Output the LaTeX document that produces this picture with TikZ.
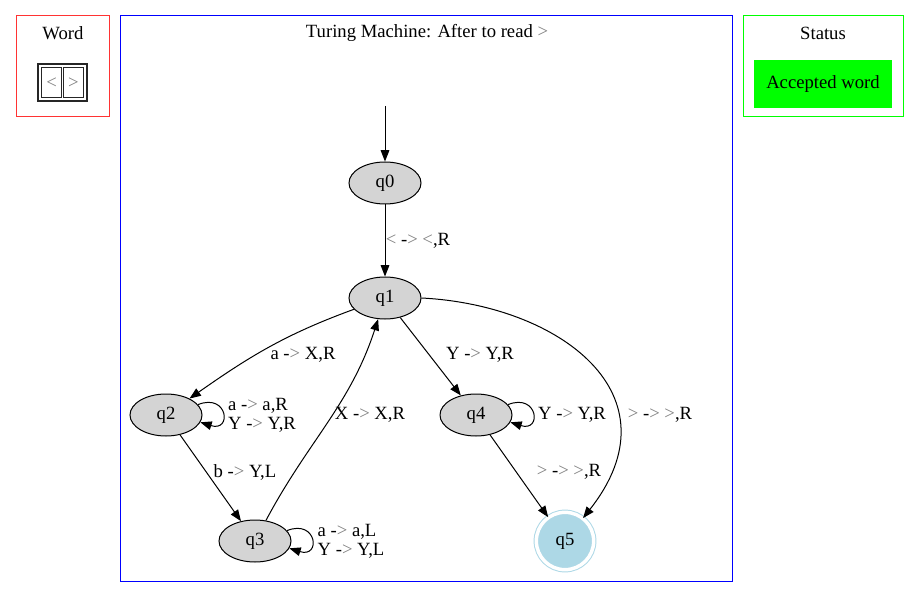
\documentclass[tikz,border=0pt]{standalone}
\usepackage{fontspec}
\setmainfont{Liberation Serif}
\usetikzlibrary{shapes.geometric,arrows.meta}
\newcommand{\mylt}{\textcolor{gray}{<}}
\newcommand{\mygt}{\textcolor{gray}{>}}
\definecolor{lblue}{HTML}{ADD8E6}
\definecolor{fred}{HTML}{FF3333}
\begin{document}
\begin{tikzpicture}[x=0.75pt,y=-0.75pt,
  every node/.style={font=\fontsize{14}{16}\selectfont, inner sep=0pt},
  st/.style={ellipse, draw, fill=black!17, minimum width=54pt, minimum height=31.5pt, line width=0.75pt},
  lbl/.style={align=left},
  edge/.style={line width=0.75pt, -{Triangle[length=8.5pt,width=6.5pt]}},
  frame/.style={line width=0.75pt}]
\useasboundingbox (0,0) rectangle (919,598);
% Word cluster
\draw[frame, fred] (16,16) rectangle (109,117);
\node (wt) at (63,33) {Word};
\draw[line width=0.9pt, black!85] (38,64) rectangle (87,101);
\draw[line width=0.9pt, black!85] (41.5,67.5) rectangle (61.7,97.5);
\draw[line width=0.9pt, black!85] (63.5,67.5) rectangle (83.5,97.5);
\node (c1) at (51.6,83) {\mylt};
\node (c2) at (73.5,83) {\mygt};
% Main cluster
\draw[frame, blue] (120,16) rectangle (732,581);
\node (mt) at (427,33) {Turing Machine: After to read \mygt};
% Status cluster
\draw[frame, green] (743,16) rectangle (903,117);
\node (stt) at (823,33) {Status};
\node[fill=green, minimum width=103.5pt, minimum height=36pt] (acc) at (823,84) {Accepted word};
% states
\coordinate (start) at (385,106);
\node[st] (q0) at (385,183) {q0};
\node[st] (q1) at (385,298) {q1};
\node[st] (q2) at (166,415) {q2};
\node[st] (q3) at (255,541) {q3};
\node[st] (q4) at (476,415) {q4};
\node[circle, draw=lblue, fill=lblue, minimum size=43pt, line width=0.75pt, double=white, double distance=2.6pt] (q5) at (565,541) {q5};
% edges
\draw[edge] (start) -- (q0);
\draw[edge] (q0) -- (q1);
\draw[edge] (q1) to[out=200,in=35] (q2);
\draw[edge] (q2) -- (q3);
\draw[edge] (q3) to[out=62,in=-108] (q1);
\draw[edge] (q1) -- (q4);
\draw[edge] (q4) -- (q5);
\draw[edge] (q1.east) .. controls (560,305) and (680,395) .. (q5);
\draw[edge] (q2.18) .. controls +(30,-12) and +(32,10) .. (q2.-12);
\draw[edge] (q3.18) .. controls +(30,-12) and +(32,10) .. (q3.-12);
\draw[edge] (q4.18) .. controls +(30,-12) and +(32,10) .. (q4.-12);
% labels
\node (l01) at (418,241) {\mylt{} -\mygt{} \mylt,R};
\node (l12) at (303,355) {a -\mygt{} X,R};
\node (l14) at (480,355) {Y -\mygt{} Y,R};
\node (l15) at (660,415) {\mygt{} -\mygt{} \mygt,R};
\node[lbl] (l22) at (262,415) {a -\mygt{} a,R\\[-2pt]Y -\mygt{} Y,R};
\node (l23) at (245,472) {b -\mygt{} Y,L};
\node (l31) at (370,415) {X -\mygt{} X,R};
\node[lbl] (l33) at (351,541) {a -\mygt{} a,L\\[-2pt]Y -\mygt{} Y,L};
\node (l44) at (572,415) {Y -\mygt{} Y,R};
\node (l45) at (569,472) {\mygt{} -\mygt{} \mygt,R};
\end{tikzpicture}
\end{document}
